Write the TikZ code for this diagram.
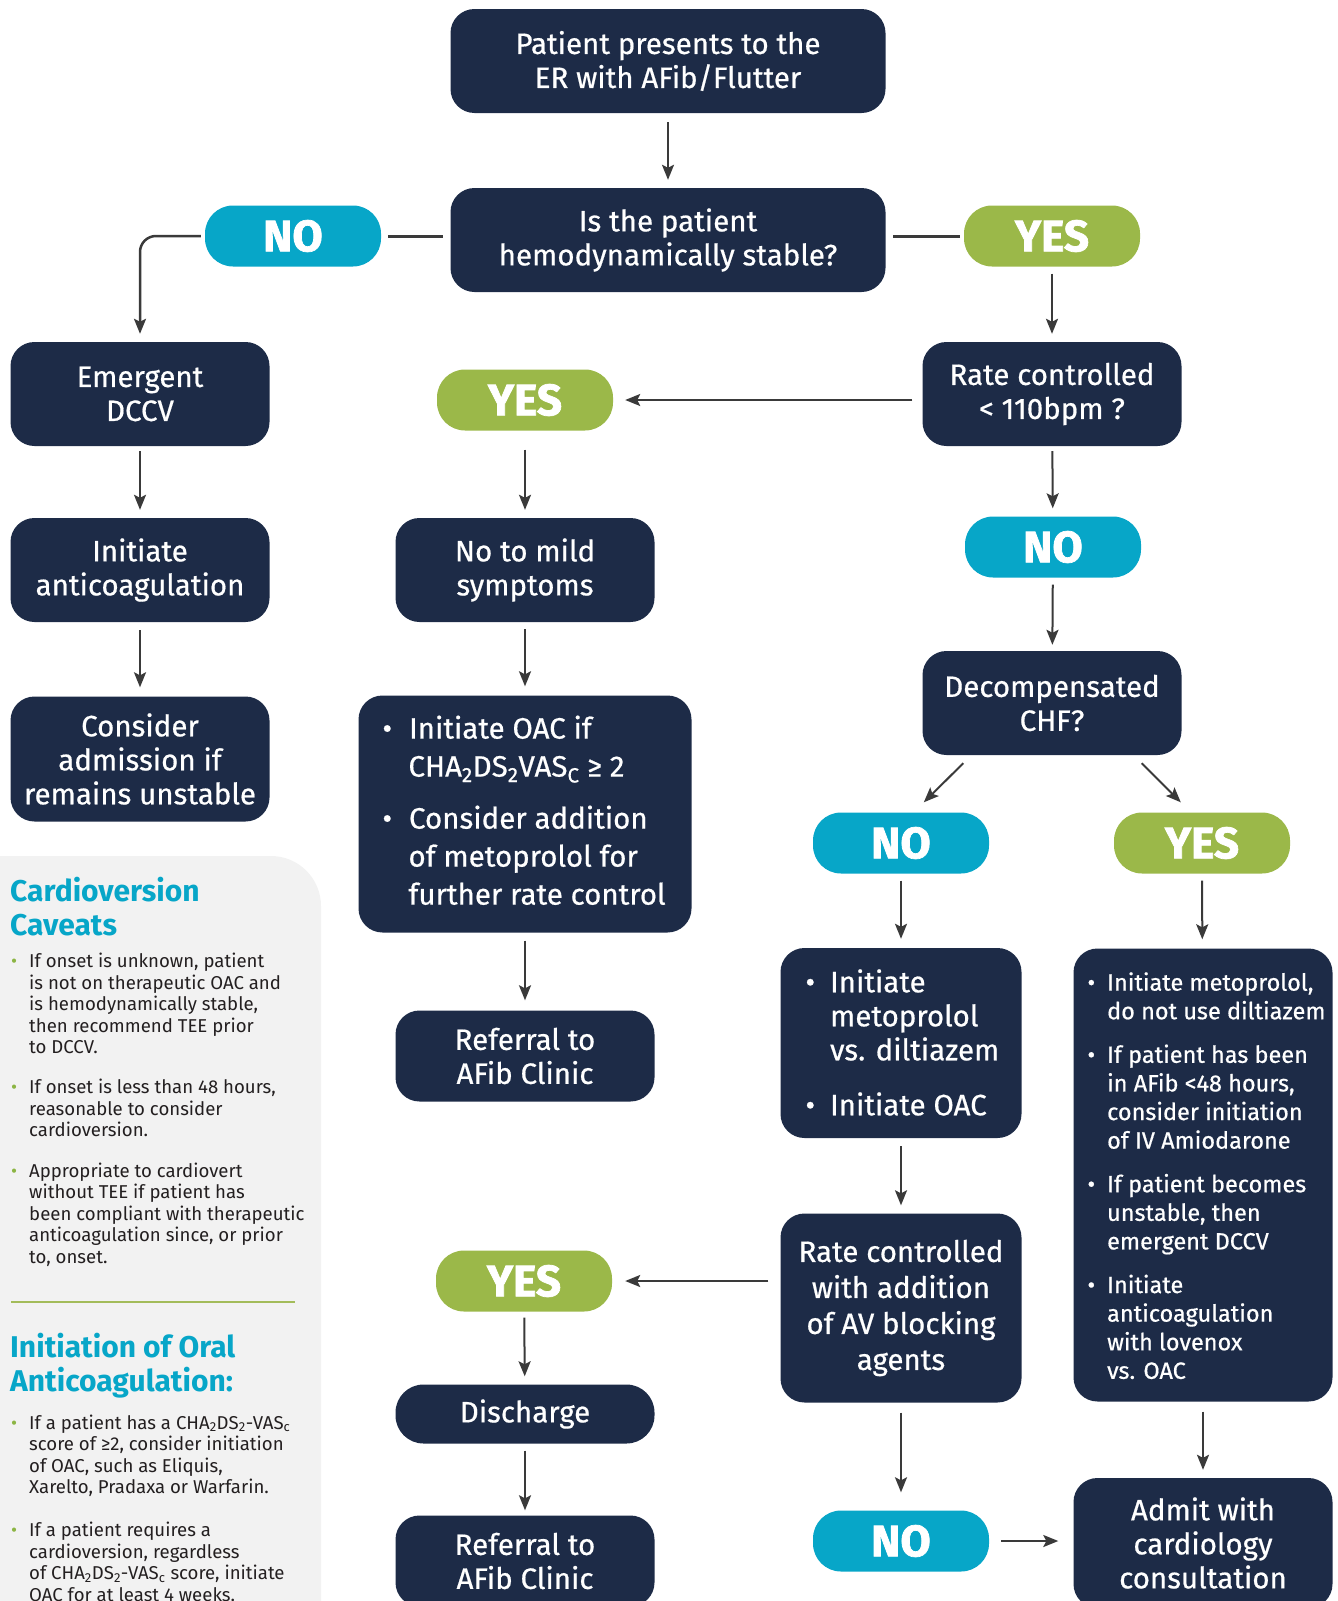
\documentclass[tikz,border=0pt]{standalone}
\usepackage{fontspec}
\setmainfont{Fira Sans}
\newfontfamily\medf[FakeBold=0.6]{Fira Sans}
\newfontfamily\heavyf[FakeBold=1.6]{Fira Sans}
\usetikzlibrary{arrows.meta,calc}
\definecolor{navy}{HTML}{1D2B47}
\definecolor{cyanp}{HTML}{07A6C8}
\definecolor{greenp}{HTML}{9BB849}
\definecolor{panel}{HTML}{F2F2F2}
\definecolor{arr}{HTML}{3A3A3A}
\definecolor{bulg}{HTML}{8CB544}
\definecolor{sepg}{HTML}{A3BC5A}
\definecolor{txt}{HTML}{231F20}
\newcommand{\gb}{{\color{bulg}\textbullet}}
\newcommand{\CHAsub}[1]{CHA\textsubscript{2}DS\textsubscript{2}#1VAS\textsubscript{c}}
\begin{document}
\begin{tikzpicture}[x=1pt,y=-1pt,
  box/.style={fill=navy, rounded corners=24pt, text=white, align=center, inner sep=0pt,
    minimum width=259pt, minimum height=104pt, font=\medf\fontsize{29.5}{34}\selectfont},
  pill/.style={rounded corners=28pt, text=white, inner sep=0pt, minimum width=176pt,
    minimum height=61pt, font=\heavyf\bfseries\fontsize{44}{44}\selectfont},
  nopill/.style={pill, fill=cyanp},
  yespill/.style={pill, fill=greenp},
  arrow/.style={draw=arr, line width=2pt, -{Stealth[length=15pt,width=12pt,inset=3pt]}},
  link/.style={draw=arr, line width=3pt},
  btext/.style={text=white, inner sep=0pt, anchor=west},
  ptext/.style={text=txt, inner sep=0pt, anchor=west, font=\fontsize{18.6}{21.5}\selectfont},
  phead/.style={text=cyanp, inner sep=0pt, anchor=west, align=left, font=\fontsize{30}{34}\selectfont\bfseries}
]
\useasboundingbox (0,0) rectangle (1338,1601);
% left panel
\fill[panel] (0,1620) -- (0,856) -- (271,856) .. controls (298.6,856) and (321,878.4) .. (321,906) -- (321,1620) -- cycle;
\node[phead] (h1) at (10,907) {Cardioversion\\Caveats};
\node[ptext] (p1) at (11,1006.5) {\begin{tabular}{@{}l@{\hspace{12pt}}l@{}}
\gb & If onset is unknown, patient\\
 & is not on therapeutic OAC and\\
 & is hemodynamically stable,\\
 & then recommend TEE prior\\
 & to DCCV.
\end{tabular}};
\node[ptext] (p2) at (11,1111) {\begin{tabular}{@{}l@{\hspace{12pt}}l@{}}
\gb & If onset is less than 48 hours,\\
 & reasonable to consider\\
 & cardioversion.
\end{tabular}};
\node[ptext] (p3) at (11,1216) {\begin{tabular}{@{}l@{\hspace{12pt}}l@{}}
\gb & Appropriate to cardiovert\\
 & without TEE if patient has\\
 & been compliant with therapeutic\\
 & anticoagulation since, or prior\\
 & to, onset.
\end{tabular}};
\coordinate (sepa) at (11,1302);
\coordinate (sepb) at (295,1302);
\draw[sepg, line width=1.5pt] (sepa) -- (sepb);
\node[phead] (h2) at (10,1366) {Initiation of Oral\\Anticoagulation:};
\node[ptext] (p4) at (11,1457) {\begin{tabular}{@{}l@{\hspace{12pt}}l@{}}
\gb & If a patient has a \CHAsub{-}\\
 & score of ≥2, consider initiation\\
 & of OAC, such as Eliquis,\\
 & Xarelto, Pradaxa or Warfarin.
\end{tabular}};
\node[ptext] (p5) at (11,1564.5) {\begin{tabular}{@{}l@{\hspace{12pt}}l@{}}
\gb & If a patient requires a\\
 & cardioversion, regardless\\
 & of \CHAsub{-} score, initiate\\
 & OAC for at least 4 weeks.
\end{tabular}};

% main column boxes
\node[box, minimum width=435pt] (start) at (668,61) {Patient presents to the\\ER with AFib/Flutter};
\node[box, minimum width=435pt] (stable) at (668,240) {Is the patient\\hemodynamically stable?};
\node[nopill] (no1) at (293,236) {NO};
\node[yespill] (yes1) at (1052,236) {YES};
\node[box] (emerg) at (140,394) {Emergent\\DCCV};
\node[box] (anti) at (140,570) {Initiate\\anticoagulation};
\node[box, minimum height=125pt] (admit1) at (140,759) {Consider\\admission if\\remains unstable};
\node[box] (rate) at (1052,394) {Rate controlled\\< 110bpm ?};
\node[yespill] (yes2) at (525,400) {YES};
\node[box] (mild) at (525,570) {No to mild\\symptoms};
\node[box, minimum width=333pt, minimum height=237pt] (oac) at (525,814) {};
\node[btext, font=\medf\fontsize{29.5}{38}\selectfont] (oact) at ($(oac.west)+(24,0)$) {\begin{tabular}{@{}l@{\hspace{17pt}}l@{}}
\textbullet & Initiate OAC if\\
\multicolumn{2}{@{}l@{}}{\hspace{26pt}CHA\textsubscript{2}DS\textsubscript{2}VAS\textsubscript{C} ≥ 2}\\[14pt]
\textbullet & Consider addition\\
\multicolumn{2}{@{}l@{}}{\hspace{26pt}of metoprolol for}\\
\multicolumn{2}{@{}l@{}}{\hspace{26pt}further rate control}
\end{tabular}};
\node[box, minimum height=91pt] (ref1) at (525,1056) {Referral to\\AFib Clinic};
\node[nopill] (no2) at (1053,547) {NO};
\node[box] (chf) at (1052,703) {Decompensated\\CHF?};
\node[nopill] (no3) at (901,843) {NO};
\node[yespill] (yes3) at (1202,843) {YES};
\node[box, minimum width=241pt, minimum height=190pt] (meto) at (901,1043) {};
\node[btext, font=\medf\fontsize{29.5}{34}\selectfont] (metot) at ($(meto.west)+(25,4)$) {\begin{tabular}{@{}l@{\hspace{15pt}}l@{}}
\textbullet & Initiate\\
 & metoprolol\\
 & vs. diltiazem\\[21pt]
\textbullet & Initiate OAC
\end{tabular}};
\node[box, minimum height=453pt] (amio) at (1203,1175) {};
\node[btext, font=\medf\fontsize{23.5}{28.6}\selectfont] (amiot) at ($(amio.west)+(14,4)$) {\begin{tabular}{@{}l@{\hspace{12pt}}l@{}}
\textbullet & Initiate metoprolol,\\
 & do not use diltiazem\\[15pt]
\textbullet & If patient has been\\
 & in AFib <48 hours,\\
 & consider initiation\\
 & of IV Amiodarone\\[15pt]
\textbullet & If patient becomes\\
 & unstable, then\\
 & emergent DCCV\\[15pt]
\textbullet & Initiate\\
 & anticoagulation\\
 & with lovenox\\
 & vs. OAC
\end{tabular}};
\node[box, minimum width=241pt, minimum height=189pt, font=\medf\fontsize{29.5}{36}\selectfont] (avb) at (901,1308) {Rate controlled\\with addition\\of AV blocking\\agents};
\node[yespill] (yes4) at (524,1281) {YES};
\node[box, minimum height=59pt, rounded corners=28pt] (disch) at (525,1414) {Discharge};
\node[box, minimum height=91pt] (ref2) at (525,1561) {Referral to\\AFib Clinic};
\node[nopill] (no4) at (901,1541) {NO};
\node[box, minimum height=130pt] (admit2) at (1203,1543) {Admit with\\cardiology\\consultation};

% connectors
\draw[arrow, shorten <=9pt, shorten >=8pt] (start) -- (stable);
\draw[link, shorten <=7pt, shorten >=7pt] (no1.east) -- (no1.east -| stable.west);
\draw[link, shorten <=4pt, shorten >=7pt] (yes1.west) -- (yes1.west -| stable.east);
\draw[arrow, line width=2.5pt, rounded corners=16pt, shorten <=4pt, shorten >=8pt] (no1.west) -| (emerg.north);
\draw[arrow, shorten <=7pt, shorten >=8pt] (yes1) -- (rate);
\draw[arrow, shorten <=5pt, shorten >=8pt] (emerg) -- (anti);
\draw[arrow, shorten <=8pt, shorten >=9pt] (anti) -- (admit1);
\draw[arrow, shorten <=10pt, shorten >=12pt] (rate.west |- yes2.east) -- (yes2.east);
\draw[arrow, shorten <=19pt, shorten >=8pt] (yes2) -- (mild);
\draw[arrow, shorten <=7pt, shorten >=9pt] (mild) -- (oac);
\draw[arrow, shorten <=8pt, shorten >=10pt] (oac) -- (ref1);
\draw[arrow, shorten <=5pt, shorten >=8pt] (rate) -- (no2);
\draw[arrow, shorten <=7pt, shorten >=6pt] (no2) -- (chf);
\draw[arrow] ($(chf.south west)+(41,8)$) -- ($(no3.north west)+(111,-10)$);
\draw[arrow] ($(chf.south east)+(-40,8)$) -- ($(yes3.north west)+(67,-10)$);
\draw[arrow, shorten <=7pt, shorten >=9pt] (no3) -- (meto);
\draw[arrow, shorten <=7pt, shorten >=9pt] (yes3) -- (amio);
\draw[arrow, shorten <=8pt, shorten >=8pt] (meto) -- (avb);
\draw[arrow, shorten <=12pt, shorten >=13pt] (avb.west |- yes4.east) -- (yes4.east);
\draw[arrow, shorten <=6pt, shorten >=8pt] (yes4) -- (disch);
\draw[arrow, shorten <=7pt, shorten >=5pt] (disch) -- (ref2);
\draw[arrow, shorten <=10pt, shorten >=18pt] (avb) -- (no4);
\draw[arrow, shorten <=10pt, shorten >=8pt] (amio) -- (admit2);
\draw[arrow, shorten <=12pt, shorten >=15pt] (no4.east) -- (no4.east -| admit2.west);
\end{tikzpicture}
\end{document}
